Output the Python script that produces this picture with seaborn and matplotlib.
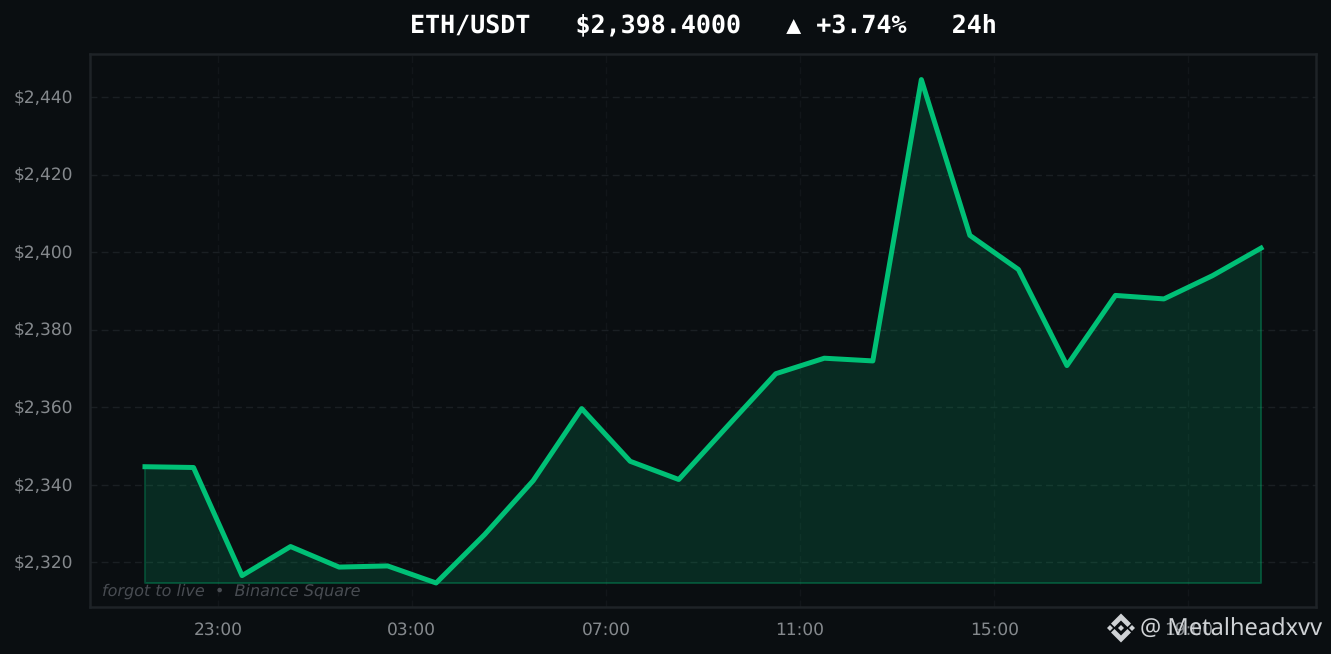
import matplotlib
matplotlib.use("Agg")
import matplotlib.pyplot as plt
import matplotlib.dates as mdates
from matplotlib.patches import Polygon
from matplotlib.ticker import FuncFormatter
import pandas as pd
import seaborn as sns

prices = [2344.6, 2344.4, 2316.5, 2324.0, 2318.7, 2319.0, 2314.6, 2327.1,
          2341.0, 2359.6, 2346.0, 2341.3, 2355.0, 2368.6, 2372.6, 2371.9,
          2444.5, 2404.3, 2395.5, 2370.7, 2388.8, 2387.9, 2393.9, 2401.0]
times = pd.date_range("2024-01-01 21:30", periods=len(prices), freq="h")
title = "ETH/USDT   $2,398.4000   ▲ +3.74%   24h"
footer = "forgot to live  •  Binance Square"
handle = "@ Metalheadxvv"

BG = "#0a0e11"
GREEN = "#00c076"
df = pd.DataFrame({"time": times, "price": prices})

sns.set_theme(style="dark", rc={"axes.facecolor": BG, "figure.facecolor": BG})
plt.rcParams["font.family"] = ["DejaVu Sans"]
plt.rcParams["text.hinting"] = "no_hinting"
plt.rcParams["text.hinting_factor"] = 1
fig = plt.figure(figsize=(13.31, 6.54), dpi=100)
W, H = 1331, 654
ax = fig.add_axes([90 / W, 1 - 607 / H, (1316 - 90) / W, (607 - 54) / H])

sns.lineplot(data=df, x="time", y="price", ax=ax, color=GREEN, linewidth=3.6,
             solid_joinstyle="round", solid_capstyle="projecting", zorder=3)
base = min(prices)
ax.fill_between(times, prices, base, facecolor=GREEN, alpha=0.17, linewidth=0, zorder=2)
ax.fill_between(times, prices, base, facecolor="none", edgecolor=GREEN, alpha=0.3,
                linewidth=1.4, zorder=2)

ax.set_xlim(pd.Timestamp("2024-01-01 20:22"), pd.Timestamp("2024-01-02 21:38"))
ax.set_ylim(2308.4, 2451.1)
ax.xaxis.set_major_locator(mdates.HourLocator(byhour=[3, 7, 11, 15, 19, 23]))
ax.xaxis.set_major_formatter(mdates.DateFormatter("%H:%M"))
ax.yaxis.set_major_formatter(FuncFormatter(lambda v, _: f"${v:,.0f}"))
ax.set_yticks([2320, 2340, 2360, 2380, 2400, 2420, 2440])
ax.set_xlabel("")
ax.set_ylabel("")
ax.grid(True, axis="y", color="#1a1f23", linewidth=1, linestyle=(0, (5, 3)), zorder=1)
ax.grid(True, axis="x", color="#12161a", linewidth=1, linestyle=(0, (5, 3)), zorder=1)
ax.tick_params(axis="both", length=0, labelsize=12.1, labelcolor="#85898d", pad=15)
ax.tick_params(axis="y", pad=12.5)
ax.tick_params(axis="x", pad=11)
for s in ax.spines.values():
    s.set_color("#1e2327")
    s.set_linewidth(1.8)
    s.set_visible(True)

fig.text(703 / W, 1 - 25.5 / H, title, ha="center", va="center", color="white",
         fontsize=17.8, fontweight="bold", family="DejaVu Sans Mono")
fig.text(102 / W, 1 - 591.5 / H, footer, ha="left", va="center", color="#484c52",
         fontsize=11.25, style="italic")
fig.text(1140 / W, 1 - 630 / H, handle, ha="left", va="center", color="#cfd2d5",
         fontsize=17, family="Noto Sans")

# Binance watermark logo, drawn in figure pixels
def diamond(cx, cy, r):
    pts = [(cx - r, cy), (cx, cy - r), (cx + r, cy), (cx, cy + r)]
    fig.add_artist(Polygon([(x / W, 1 - y / H) for x, y in pts], closed=True,
                           transform=fig.transFigure, facecolor="#cfd2d5", edgecolor="none"))
def chevron(cx, cy, up):
    s = -1 if up else 1
    pts = [(cx - 10, cy + s * 1), (cx, cy + s * 11), (cx + 10, cy + s * 1),
           (cx + 6.5, cy - s * 2.5), (cx, cy + s * 4), (cx - 6.5, cy - s * 2.5)]
    fig.add_artist(Polygon([(x / W, 1 - y / H) for x, y in pts], closed=True,
                           transform=fig.transFigure, facecolor="#cfd2d5", edgecolor="none"))
chevron(1121, 624.5, True)
chevron(1121, 631.5, False)
diamond(1121, 628, 3)
diamond(1110, 628, 3)
diamond(1132, 628, 3)

fig.savefig("out.png", dpi=100, facecolor=BG)
